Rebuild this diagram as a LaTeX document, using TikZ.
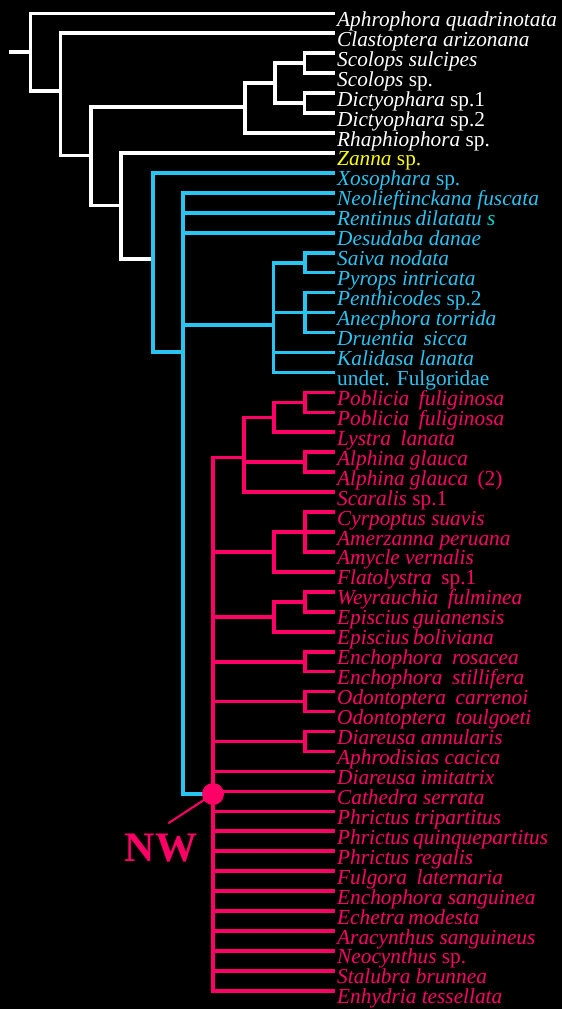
\documentclass[tikz,border=0pt]{standalone}
\usepackage{fontspec}
\setmainfont{Liberation Serif}
\definecolor{cyanc}{RGB}{40,196,242}
\definecolor{pinkc}{RGB}{255,0,102}
\definecolor{yellowc}{RGB}{255,255,0}
\definecolor{tealc}{RGB}{0,214,200}
\newcommand{\lblfont}{\fontsize{21.3}{24}\selectfont}
\newcommand{\nsp}{\hspace{0.18em}}
\newcommand{\wsp}{\hspace{0.45em}}
\begin{document}
\begin{tikzpicture}[x=1pt,y=-1pt,
  br/.style={line width=3.6pt, line join=miter, line cap=butt},
  wb/.style={br, draw=white},
  cb/.style={br, draw=cyanc},
  pb/.style={br, draw=pinkc},
  lbl/.style={anchor=base west, inner sep=0pt, font=\lblfont}]
\fill[black] (0,0) rectangle (562,1009);
\useasboundingbox (0,0) rectangle (562,1009);
% leaf ends
\foreach \i in {0,...,49} \coordinate (L\i) at (335,{13.3+19.95*\i});
% labels
\foreach \i/\t/\c in {
 0/{\textit{Aphrophora quadrinotata}}/white,
 1/{\textit{Clastoptera arizonana}}/white,
 2/{\textit{Scolops sulcipes}}/white,
 3/{\textit{Scolops} sp.}/white,
 4/{\textit{Dictyophara} sp.1}/white,
 5/{\textit{Dictyophara} sp.2}/white,
 6/{\textit{Rhaphiophora} sp.}/white,
 7/{\textit{Zanna} sp.}/yellowc,
 8/{\textit{Xosophara} sp.}/cyanc,
 9/{\textit{Neolieftinckana fuscata}}/cyanc,
 10/{\textit{Rentinus\nsp dilatatu {\color{tealc}s}}}/cyanc,
 11/{\textit{Desudaba danae}}/cyanc,
 12/{\textit{Saiva nodata}}/cyanc,
 13/{\textit{Pyrops intricata}}/cyanc,
 14/{\textit{Penthicodes} sp.2}/cyanc,
 15/{\textit{Anecphora torrida}}/cyanc,
 16/{\textit{Druentia\wsp sicca}}/cyanc,
 17/{\textit{Kalidasa lanata}}/cyanc,
 18/{undet. Fulgoridae}/cyanc,
 19/{\textit{Poblicia\wsp fuliginosa}}/pinkc,
 20/{\textit{Poblicia\wsp fuliginosa}}/pinkc,
 21/{\textit{Lystra\wsp lanata}}/pinkc,
 22/{\textit{Alphina glauca}}/pinkc,
 23/{\textit{Alphina glauca}\wsp(2)}/pinkc,
 24/{\textit{Scaralis} sp.1}/pinkc,
 25/{\textit{Cyrpoptus suavis}}/pinkc,
 26/{\textit{Amerzanna peruana}}/pinkc,
 27/{\textit{Amycle vernalis}}/pinkc,
 28/{\textit{Flatolystra}\wsp sp.1}/pinkc,
 29/{\textit{Weyrauchia\wsp fulminea}}/pinkc,
 30/{\textit{Episcius\nsp guianensis}}/pinkc,
 31/{\textit{Episcius\nsp boliviana}}/pinkc,
 32/{\textit{Enchophora\wsp rosacea}}/pinkc,
 33/{\textit{Enchophora\wsp stillifera}}/pinkc,
 34/{\textit{Odontoptera\wsp carrenoi}}/pinkc,
 35/{\textit{Odontoptera\wsp toulgoeti}}/pinkc,
 36/{\textit{Diareusa annularis}}/pinkc,
 37/{\textit{Aphrodisias cacica}}/pinkc,
 38/{\textit{Diareusa imitatrix}}/pinkc,
 39/{\textit{Cathedra serrata}}/pinkc,
 40/{\textit{Phrictus tripartitus}}/pinkc,
 41/{\textit{Phrictus\nsp quinquepartitus}}/pinkc,
 42/{\textit{Phrictus regalis}}/pinkc,
 43/{\textit{Fulgora\wsp laternaria}}/pinkc,
 44/{\textit{Enchophora sanguinea}}/pinkc,
 45/{\textit{Echetra\nsp modesta}}/pinkc,
 46/{\textit{Aracynthus sanguineus}}/pinkc,
 47/{\textit{Neocynthus} sp.}/pinkc,
 48/{\textit{Stalubra brunnea}}/pinkc,
 49/{\textit{Enhydria tessellata}}/pinkc}
 \node[lbl, text=\c] (T\i) at (337,{13.3+19.95*\i+13}) {\t};
% internal nodes
\coordinate (Rs) at (9,52);
\coordinate (R) at (30.5,52);
\coordinate (A) at (60.5,91);
\coordinate (B) at (90.7,155.5);
\coordinate (C) at (120.7,205.5);
\coordinate (D) at (152.7,259);
\coordinate (E) at (183,352);
\coordinate (F) at (245,107);
\coordinate (G) at (275,83.15);
\coordinate (H1) at (304.5,63.2);
\coordinate (H2) at (304.5,103.1);
\coordinate (Q) at (273.3,325);
\coordinate (Q1) at (305,262.7);
\coordinate (Q2) at (305,312.55);
\coordinate (PN) at (213,794);
\coordinate (P1) at (244,457.5);
\coordinate (P2) at (274,417.3);
\coordinate (P4) at (305,402.3);
\coordinate (P3) at (305,462.2);
\coordinate (P5) at (274,552);
\coordinate (P6) at (305,532);
\coordinate (P7) at (274,616.8);
\coordinate (P8) at (305,601.8);
\coordinate (P9) at (305,661.7);
\coordinate (P10) at (305,701.6);
\coordinate (P11) at (305,741.5);
% white branches
\draw[wb] (Rs) -- (R);
\foreach \p/\c in {R/L0,R/A,A/L1,A/B,B/F,B/C,F/G,F/L6,G/H1,G/H2,H1/L2,H1/L3,H2/L4,H2/L5,C/L7,C/D}
  \draw[wb] (\p) |- (\c);
% cyan branches
\foreach \p/\c in {D/L8,D/E,E/L9,E/L10,E/L11,E/Q,Q/Q1,Q/Q2,Q/L17,Q/L18,Q1/L12,Q1/L13,Q2/L14,Q2/L15,Q2/L16,E/PN}
  \draw[cb] (\p) |- (\c);
% pink branches
\foreach \p/\c in {PN/P1,PN/P5,PN/P7,PN/P9,PN/P10,PN/P11,PN/L38,PN/L39,PN/L40,PN/L41,PN/L42,PN/L43,PN/L44,PN/L45,PN/L46,PN/L47,PN/L48,PN/L49,
  P1/P2,P1/P3,P1/L24,P2/P4,P2/L21,P4/L19,P4/L20,P3/L22,P3/L23,P5/P6,P5/L28,P6/L25,P6/L26,P6/L27,P7/P8,P7/L31,P8/L29,P8/L30,P9/L32,P9/L33,P10/L34,P10/L35,P11/L36,P11/L37}
  \draw[pb] (\p) |- (\c);
% NW marker
\node[anchor=base, inner sep=0pt, text=pinkc, font=\bfseries\fontsize{42}{42}\selectfont] (NW) at (161,861.7) {NW};
\coordinate (nwtip) at (168.3,823.3);
\draw[pinkc, line width=2pt] (nwtip) -- (PN);
\fill[pinkc] (PN) circle (11);
\end{tikzpicture}
\end{document}
